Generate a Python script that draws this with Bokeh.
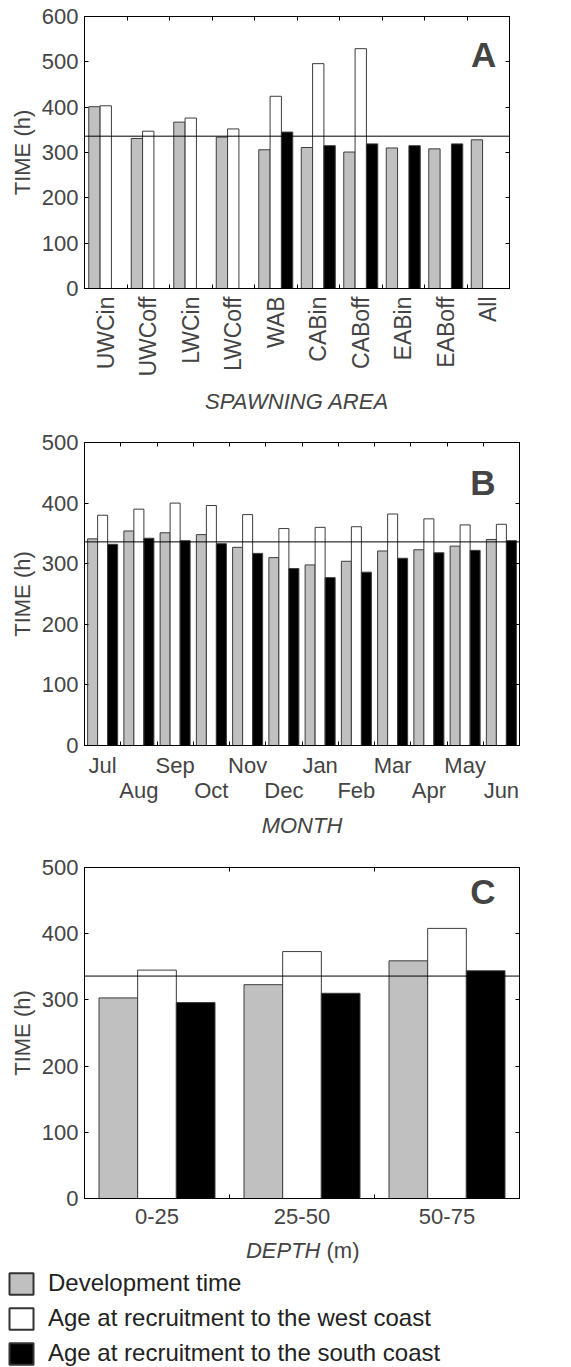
import numpy as np
from bokeh.plotting import figure
from bokeh.models import (Range1d, FixedTicker, LinearAxis, Span, Label,
                          Legend, LegendItem, ColumnDataSource)
from bokeh.layouts import column
from bokeh.embed import file_html
from bokeh.resources import INLINE

# ---------------- data ----------------
# Panel A: spawning area
areas = ["UWCin", "UWCoff", "LWCin", "LWCoff", "WAB", "CABin", "CABoff",
         "EABin", "EABoff", "All"]
area_dev = [401, 331, 367, 334, 306, 311, 301, 310, 308, 328]
area_west = [403, 347, 376, 352, 424, 496, 529, None, None, None]
area_south = [None, None, None, None, 345, 315, 319, 315, 319, None]

# Panel B: month of spawning
months = ["Jul", "Aug", "Sep", "Oct", "Nov", "Dec", "Jan", "Feb", "Mar",
          "Apr", "May", "Jun"]
month_dev = [341, 354, 351, 348, 327, 310, 298, 304, 321, 323, 329, 340]
month_west = [380, 390, 400, 396, 381, 358, 360, 361, 382, 374, 364, 365]
month_south = [332, 342, 338, 333, 317, 292, 277, 286, 309, 318, 322, 338]

# Panel C: spawning depth
depths = ["0-25", "25-50", "50-75"]
depth_dev = [303, 323, 359]
depth_west = [345, 373, 408]
depth_south = [296, 310, 344]

# 14 days in hours
reference_time = 336

series_names = ["Development time",
                "Age at recruitment to the west coast",
                "Age at recruitment to the south coast"]
series_fill = ["#c0c0c0", "#ffffff", "#000000"]

# ---------------- styling ----------------
FONT = "Liberation Sans"
TICK_SIZE = "22px"
EDGE = "#3c3c3c"


def no_align(p):
    if "frame_align" in p.properties():
        p.frame_align = False


def hidden_axis(ticks):
    # box-side axis: inward ticks only, blank labels
    return LinearAxis(ticker=FixedTicker(ticks=ticks),
                      major_label_overrides={t: "" for t in ticks},
                      major_label_text_font=FONT,
                      major_label_text_font_size="10px",
                      major_tick_in=4, major_tick_out=0,
                      minor_tick_line_color=None, axis_line_color="black",
                      major_label_standoff=0)


def make_panel(n_groups, ymax, frame_w, frame_h, top, right, bottom):
    p = figure(frame_width=frame_w, frame_height=frame_h,
               x_range=Range1d(0, n_groups), y_range=Range1d(0, ymax),
               x_axis_type=None, y_axis_type=None,
               output_backend="svg", toolbar_location=None,
               min_border_left=84, min_border_right=right,
               min_border_top=top, min_border_bottom=bottom)
    no_align(p)
    p.outline_line_color = "black"
    p.background_fill_color = "white"
    p.border_fill_color = "white"

    yticks = list(range(0, ymax + 1, 100))
    left = LinearAxis(ticker=FixedTicker(ticks=yticks), axis_label="TIME (h)",
                      axis_label_text_font=FONT,
                      axis_label_text_font_size=TICK_SIZE,
                      axis_label_text_font_style="normal",
                      axis_label_standoff=4,
                      major_label_text_font=FONT,
                      major_label_text_font_size=TICK_SIZE,
                      major_label_standoff=6,
                      major_tick_in=4, major_tick_out=0,
                      minor_tick_line_color=None, axis_line_color="black")
    p.add_layout(left, "left")
    p.add_layout(hidden_axis(yticks), "right")
    p.add_layout(hidden_axis(list(range(1, n_groups))), "above")

    p.add_layout(Span(location=reference_time, dimension="width",
                      line_color="black", line_width=1))
    return p


def add_bars(p, series, width):
    sources = []
    for k, (vals, fill) in enumerate(zip(series, series_fill)):
        xs = [i + 0.5 + (k - 1) * width for i, v in enumerate(vals) if v is not None]
        tops = [v for v in vals if v is not None]
        src = ColumnDataSource(dict(x=xs, top=tops))
        p.vbar(x="x", top="top", bottom=0, width=width, source=src,
               fill_color=fill, line_color=EDGE, line_width=1)
        sources.append(src)
    return sources


def category_axis(names, positions, bounds, label_size=TICK_SIZE, **kw):
    return LinearAxis(ticker=FixedTicker(ticks=positions, minor_ticks=bounds),
                      major_label_overrides={x: s for x, s in zip(positions, names)},
                      major_label_text_font=FONT,
                      major_label_text_font_size=label_size,
                      major_tick_in=0, major_tick_out=0,
                      minor_tick_in=4, minor_tick_out=0,
                      axis_line_color="black",
                      axis_label_text_font=FONT,
                      axis_label_text_font_size=TICK_SIZE,
                      axis_label_text_font_style="italic", **kw)


def panel_letter(p, letter, x, y):
    p.add_layout(Label(x=x, y=y, text=letter, text_font=FONT,
                       text_font_size="35px", text_font_style="bold",
                       text_align="right", text_baseline="alphabetic"))


# ---------------- panel A ----------------
pa = make_panel(len(areas), 600, 425, 272, top=16, right=62, bottom=132)
add_bars(pa, [area_dev, area_west, area_south], 0.8 / 3)
centers_a = [i + 0.5 for i in range(len(areas))]
ax_a = category_axis(areas, centers_a, list(range(1, len(areas))),
                     label_size="23px",
                     axis_label="SPAWNING AREA", axis_label_standoff=9,
                     major_label_standoff=8,
                     major_label_orientation=np.pi / 2)
pa.add_layout(ax_a, "below")
panel_letter(pa, "A", 9.69, 517)

# ---------------- panel B ----------------
pb = make_panel(len(months), 500, 435, 303, top=22, right=52, bottom=101)
add_bars(pb, [month_dev, month_west, month_south], 0.276)
odd_pos = [i + 0.5 for i in range(0, len(months), 2)]
even_pos = [i + 0.5 for i in range(1, len(months), 2)]
ax_b1 = category_axis(months[0::2], odd_pos, list(range(1, len(months))),
                      major_label_standoff=7)
ax_b2 = category_axis(months[1::2], even_pos, [],
                      axis_label="MONTH", axis_label_standoff=7,
                      major_label_standoff=-3)
ax_b2.axis_line_color = None
ax_b2.minor_tick_line_color = None
pb.add_layout(ax_b1, "below")
pb.add_layout(ax_b2, "below")
panel_letter(pb, "B", 11.34, 434)

# ---------------- panel C ----------------
pc = make_panel(len(depths), 500, 435, 331, top=21, right=52, bottom=38)
depth_sources = add_bars(pc, [depth_dev, depth_west, depth_south], 0.8 / 3)
centers_c = [i + 0.5 for i in range(len(depths))]
ax_c = category_axis(depths, centers_c, list(range(1, len(depths))),
                     major_label_standoff=10)
pc.add_layout(ax_c, "below")
panel_letter(pc, "C", 2.834, 464)

# ---------------- axis title of C and the shared legend ----------------
H_LEG = 131
pl = figure(width=571, height=H_LEG, x_range=Range1d(0, 571),
            y_range=Range1d(0, H_LEG), x_axis_type=None, y_axis_type=None,
            output_backend="svg", toolbar_location=None, min_border=0)
no_align(pl)
pl.outline_line_color = None
pl.add_layout(Label(x=320, y=117, text="DEPTH", text_font=FONT,
                    text_font_size=TICK_SIZE, text_font_style="italic",
                    text_align="right", text_baseline="alphabetic"))
pl.add_layout(Label(x=326, y=117, text="(m)", text_font=FONT,
                    text_font_size=TICK_SIZE, text_font_style="normal",
                    text_align="left", text_baseline="alphabetic"))

items = []
for name, fill, src in zip(series_names, series_fill, depth_sources):
    r = pl.vbar(x="x", top="top", bottom=0, width=0.1, source=src,
                fill_color=fill, line_color="#333333", line_width=2,
                visible=False)
    items.append(LegendItem(label=name, renderers=[r]))
legend = Legend(items=items, location=(6, 0), margin=0, padding=0,
                border_line_color=None, background_fill_alpha=0,
                label_text_font=FONT, label_text_font_size="24px",
                label_text_color="#222222", glyph_width=30, glyph_height=27,
                label_height=27, label_standoff=12, spacing=7)
pl.add_layout(legend)

layout = column(pa, pb, pc, pl, spacing=0)
open("out.html", "w").write(file_html(layout, INLINE))
